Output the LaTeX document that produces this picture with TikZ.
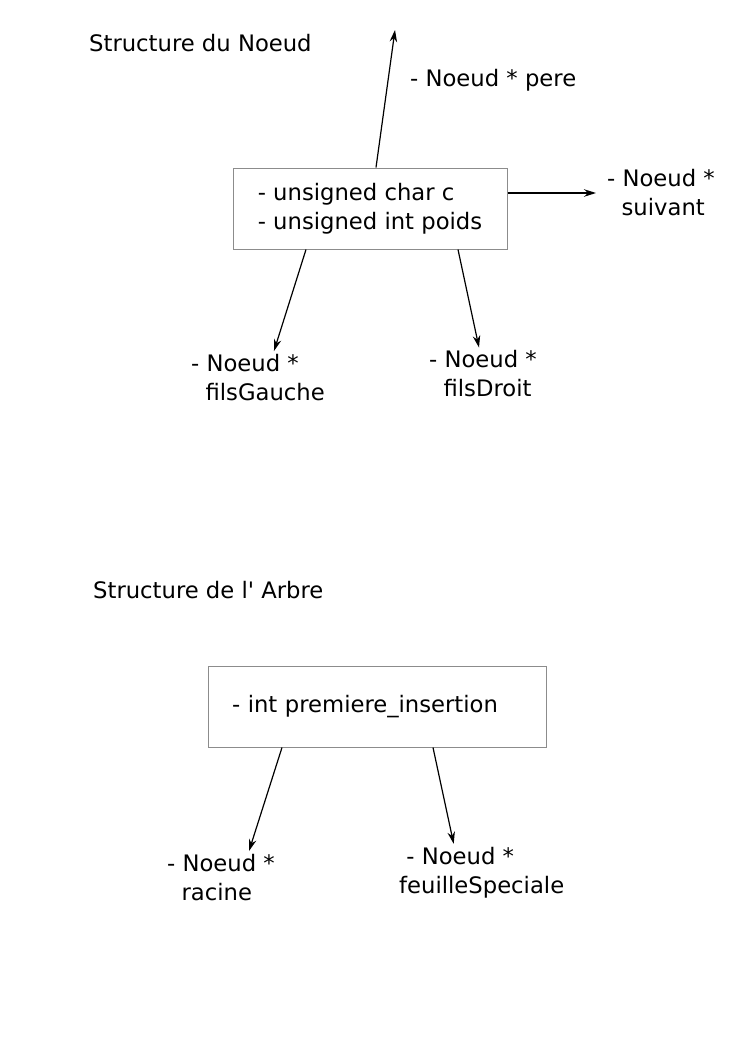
\documentclass[tikz,border=0pt]{standalone}
\usepackage{fontspec}
\setmainfont{DejaVu Sans}
\usepackage{tikz}
\usetikzlibrary{positioning,arrows.meta}
\usepackage{xcolor}

\newcommand{\indsp}[1]{\hspace*{#1\fontdimen2\font}}

\begin{document}
\begin{tikzpicture}[
    x=1pt, y=-1pt,
    every node/.style={font=\fontsize{22.7}{29}\selectfont},
    box/.style={
        rectangle, draw=black!45, line width=1pt,
        minimum width=#1, minimum height=81pt,
        align=left, inner ysep=0pt
    },
    lbl/.style={anchor=west, align=left, inner sep=0pt},
    arrow/.style={-{Stealth[length=12pt,width=7.5pt]}, line width=1.2pt, draw=black}
]
\useasboundingbox (0,0) rectangle (744,1052);

% Structure du Noeud
\node[lbl] (titrenoeud) at (89,43) {Structure du Noeud};

\node[box=274pt, inner xsep=22pt] (noeud) at (370,208.5)
    {- unsigned char c\\- unsigned int poids};

\coordinate (pereend) at (395,30);
\node[lbl] (pere) at (410,80) {- Noeud * pere};
\node[lbl] (suivant) at (607,193) {- Noeud *\\\indsp{2}suivant};
\node[lbl] (fg) at (191,377.5) {- Noeud *\\\indsp{2}filsGauche};
\node[lbl] (fd) at (429,374) {- Noeud *\\\indsp{2}filsDroit};

% pointeurs du noeud
\draw[arrow] ([xshift=6pt]noeud.north) -- (pereend);
\draw[arrow] ([yshift=15.5pt]noeud.east) -- ([xshift=-11pt]suivant.west);
\draw[arrow] ([xshift=-64pt]noeud.south) -- ([xshift=16pt,yshift=3pt]fg.north);
\draw[arrow] ([xshift=88pt]noeud.south) -- ([xshift=-4pt,yshift=3pt]fd.north);

% Structure de l'Arbre
\node[lbl] (titrearbre) at (93,590) {Structure de l\textquotesingle{} Arbre};

\node[box=338pt, inner xsep=24pt, text width=290pt] (arbre) at (377,706.5)
    {- int premiere\_insertion};

\node[lbl] (racine) at (167,877.5) {- Noeud *\\\indsp{2}racine};
\node[lbl] (fs) at (399,872.5) {\indsp{1}- Noeud *\\feuilleSpeciale};

% pointeurs de l'arbre
\draw[arrow] ([xshift=-95pt]arbre.south) -- ([xshift=28pt,yshift=3pt]racine.north);
\draw[arrow] ([xshift=56pt]arbre.south) -- ([xshift=-28pt,yshift=3pt]fs.north);

\end{tikzpicture}
\end{document}
